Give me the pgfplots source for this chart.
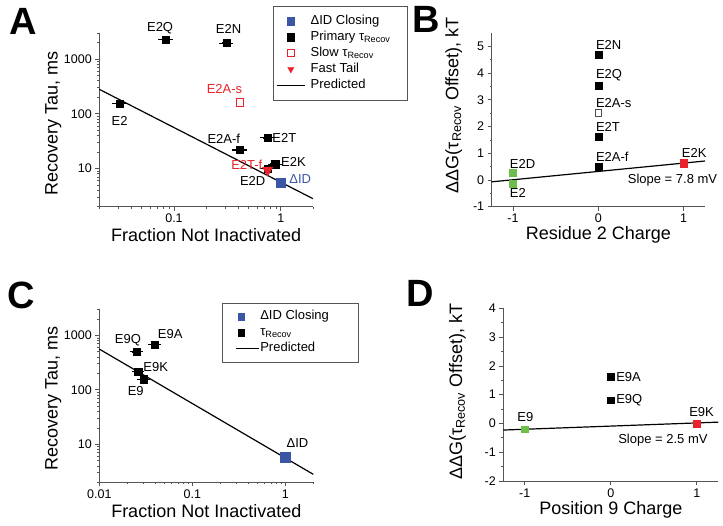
\documentclass[border=0pt]{standalone}
\usepackage{fontspec}
\setmainfont{Liberation Sans}
\usepackage{pgfplots}
\pgfplotsset{compat=1.18}
\definecolor{cblue}{HTML}{3A56A5}
\definecolor{cred}{HTML}{E8232A}
\definecolor{cgreen}{HTML}{6DBE4B}
\definecolor{axgray}{HTML}{555555}
\newcommand\tickfont{\fontsize{12.5}{14}\selectfont}
\newcommand\labfont{\fontsize{18}{21}\selectfont}
\newcommand\datfont{\fontsize{13}{15}\selectfont}
\newcommand\panfont{\fontsize{38}{40}\selectfont\bfseries}
\pgfplotsset{
  base/.style={
    scale only axis, anchor=south west, clip=false,
    axis lines=left, axis line style={-, axgray, line width=0.8pt},
    tick align=outside, major tick length=4pt, minor tick length=2.2pt,
    tick style={axgray, line width=0.7pt},
    every tick label/.append style={font=\tickfont},
    /pgf/number format/assume math mode=true,
    legend cell align=left,
  },
}
\begin{document}
\begin{tikzpicture}
\path[use as bounding box] (0,0) rectangle (723pt,526pt);
\node[font=\panfont] at (23.3pt,504.5pt) {A};
\node[font=\panfont] at (426.7pt,507pt) {B};
\node[font=\panfont] at (21.7pt,230.2pt) {C};
\node[font=\panfont] at (420pt,232.7pt) {D};

% ---------------- A ----------------
\begin{axis}[base, at={(99.3pt,319.3pt)}, width=213.7pt, height=173.7pt,
  xmode=log, ymode=log, xmin=0.02, xmax=2, ymin=2, ymax=3000,
  xtick={0.1,1}, xticklabels={0.1,1},
  minor xtick={0.02,0.03,0.04,0.05,0.06,0.07,0.08,0.09,0.2,0.3,0.4,0.5,0.6,0.7,0.8,0.9,2},
  ytick={10,100,1000}, yticklabels={10,100,1000},
  minor ytick={2,3,4,5,6,7,8,9,20,30,40,50,60,70,80,90,200,300,400,500,600,700,800,900,2000,3000},
  xlabel={Fraction Not Inactivated}, ylabel={Recovery Tau, ms},
  every axis x label/.style={at={(axis description cs:0.5,-0.163)}, anchor=center, font=\labfont},
  every axis y label/.style={at={(axis description cs:-0.2153,0.479)}, rotate=90, anchor=center, font=\labfont},
  legend image code/.code={\draw[mark repeat=2,mark phase=2,#1] plot coordinates {(0pt,0pt) (14pt,0pt) (28pt,0pt)};},
  legend image post style={mark size=3.6pt},
  legend style={at={(0.813,1.155)}, anchor=north west, draw=axgray, font=\datfont,
    inner xsep=3pt, inner ysep=7pt, row sep=0pt,
    nodes={inner sep=1.2pt, text height=9.6pt, text depth=4pt},
    /tikz/every odd column/.append style={column sep=4pt}},
]
\addplot[only marks, mark=square*, mark size=4.7pt, cblue] coordinates {(1.0,5.5)};
\addlegendentry{ΔID Closing}
\addplot[only marks, mark=square*, mark size=3.6pt, black,
  error bars/.cd, x dir=both, x explicit, error bar style={line width=1.3pt},
  error mark options={mark size=2.3pt, line width=1.1pt}]
  coordinates {(0.031,152) +- (0.0032,0) (0.084,2270) +- (0.0088,0) (0.311,1960) +- (0.032,0)
   (0.413,21.8) +- (0.043,0) (0.753,36.2) +- (0.078,0) (0.887,12.0) +- (0.092,0) (0.753,9.9) +- (0.078,0)};
\addlegendentry{\makebox[92pt][l]{Primary τ\textsubscript{Recov}}}
\addplot[only marks, mark=square, mark size=3.8pt, cred, line width=0.8pt] coordinates {(0.413,163)};
\addlegendentry{Slow τ\textsubscript{Recov}}
\addplot[only marks, mark=triangle*, mark options={rotate=180}, mark size=6pt, cred] coordinates {(0.753,9.3)};
\addlegendentry{Fast Tail}
\addplot[black, line width=1.2pt] coordinates {(0.02,280) (2,2.8)};
\addlegendentry{Predicted}
\node[font=\datfont, xshift=-5.8pt, yshift=11pt] at (axis cs:0.084,2270) {E2Q};
\node[font=\datfont, xshift=2pt, yshift=14.4pt] at (axis cs:0.311,1960) {E2N};
\node[font=\datfont, text=cred, xshift=-15.3pt, yshift=13.4pt] at (axis cs:0.413,163) {E2A-s};
\node[font=\datfont, xshift=0pt, yshift=-17.4pt] at (axis cs:0.031,152) {E2};
\node[font=\datfont, xshift=-16pt, yshift=11pt] at (axis cs:0.413,21.8) {E2A-f};
\node[font=\datfont, anchor=west, inner sep=0pt, xshift=4.6pt] at (axis cs:0.753,36.2) {E2T};
\node[font=\datfont, anchor=west, inner sep=0pt, xshift=5.7pt, yshift=2.6pt] at (axis cs:0.887,12.0) {E2K};
\node[font=\datfont, text=cred, anchor=west, inner sep=0pt, xshift=-36.6pt, yshift=5.3pt] at (axis cs:0.753,9.3) {E2T-f};
\node[font=\datfont, xshift=-15pt, yshift=-10.7pt] at (axis cs:0.753,9.3) {E2D};
\node[font=\datfont, text=cblue, anchor=west, inner sep=0pt, xshift=8.3pt, yshift=3.4pt] at (axis cs:1.0,5.5) {ΔID};
\end{axis}

% ---------------- B ----------------
\begin{axis}[base, at={(491.7pt,319.3pt)}, width=213.3pt, height=173.7pt,
  xmin=-1.25, xmax=1.25, ymin=-1, ymax=5.5,
  xtick={-1,0,1}, xticklabels={-1,0,1},
  ytick={-1,0,1,2,3,4,5}, yticklabels={-1,0,1,2,3,4,5}, minor y tick num=1,
  xlabel={Residue 2 Charge}, ylabel={ΔΔG(τ\textsubscript{Recov} Offset), kT},
  every axis x label/.style={at={(axis description cs:0.5,-0.163)}, anchor=center, font=\labfont},
  every axis y label/.style={at={(axis description cs:-0.1777,0.585)}, rotate=90, anchor=center, font=\labfont},
]
\addplot[black, line width=1.2pt] coordinates {(-1.25,-0.07) (1.25,0.71)};
\addplot[only marks, mark=square*, mark size=3.4pt, black] coordinates {(0,4.69) (0,3.54) (0,1.62) (0,0.5)};
\addplot[only marks, mark=square, mark size=3.4pt, black!70, line width=0.8pt] coordinates {(0,2.52)};
\addplot[only marks, mark=square*, mark size=3.4pt, cgreen] coordinates {(-1,0.27) (-1,-0.15)};
\addplot[only marks, mark=square*, mark size=3.6pt, cred] coordinates {(1,0.63)};
\node[font=\datfont, anchor=west, inner sep=0pt, xshift=-2.5pt, yshift=10pt] at (axis cs:0,4.69) {E2N};
\node[font=\datfont, anchor=west, inner sep=0pt, xshift=-2.5pt, yshift=10pt] at (axis cs:0,3.54) {E2Q};
\node[font=\datfont, anchor=west, inner sep=0pt, xshift=-2.5pt, yshift=10pt] at (axis cs:0,2.52) {E2A-s};
\node[font=\datfont, anchor=west, inner sep=0pt, xshift=-2.5pt, yshift=10pt] at (axis cs:0,1.62) {E2T};
\node[font=\datfont, anchor=west, inner sep=0pt, xshift=-2.5pt, yshift=10pt] at (axis cs:0,0.5) {E2A-f};
\node[font=\datfont, anchor=west, inner sep=0pt, xshift=-3.3pt, yshift=8.7pt] at (axis cs:-1,0.27) {E2D};
\node[font=\datfont, anchor=west, inner sep=0pt, xshift=-3.3pt, yshift=-9.3pt] at (axis cs:-1,-0.15) {E2};
\node[font=\datfont, anchor=west, inner sep=0pt, xshift=-2pt, yshift=10pt] at (axis cs:1,0.63) {E2K};
\node[font=\datfont] at (axis cs:0.869,0) {Slope = 7.8 mV};
\end{axis}

% ---------------- C ----------------
\begin{axis}[base, at={(99.3pt,43.7pt)}, width=214pt, height=172.9pt,
  xmode=log, ymode=log, xmin=0.01, xmax=2, ymin=2, ymax=3000,
  xtick={0.01,0.1,1}, xticklabels={0.01,0.1,1},
  minor xtick={0.02,0.03,0.04,0.05,0.06,0.07,0.08,0.09,0.2,0.3,0.4,0.5,0.6,0.7,0.8,0.9,2},
  ytick={10,100,1000}, yticklabels={10,100,1000},
  minor ytick={2,3,4,5,6,7,8,9,20,30,40,50,60,70,80,90,200,300,400,500,600,700,800,900,2000,3000},
  xlabel={Fraction Not Inactivated}, ylabel={Recovery Tau, ms},
  every axis x label/.style={at={(axis description cs:0.5,-0.164)}, anchor=center, font=\labfont},
  every axis y label/.style={at={(axis description cs:-0.215,0.487)}, rotate=90, anchor=center, font=\labfont},
  legend image code/.code={\draw[mark repeat=2,mark phase=2,#1] plot coordinates {(0pt,0pt) (5.7pt,0pt) (23pt,0pt)};},
  legend image post style={mark size=3.4pt},
  legend style={at={(0.572,1.038)}, anchor=north west, draw=axgray, font=\datfont,
    inner xsep=13pt, inner ysep=5.5pt, row sep=0pt,
    nodes={inner sep=1.2pt, text height=9.6pt, text depth=4pt}},
]
\addplot[only marks, mark=square*, mark size=4.8pt, cblue] coordinates {(1.0,5.8)};
\addlegendentry{\makebox[84pt][l]{ΔID Closing}}
\addplot[only marks, mark=square*, mark size=3.6pt, black,
  error bars/.cd, x dir=both, x explicit, error bar style={line width=1.3pt},
  error mark options={mark size=2.3pt, line width=1.1pt}]
  coordinates {(0.0252,496) +- (0.0026,0) (0.0397,685) +- (0.0041,0) (0.0262,215) +- (0.0027,0) (0.0302,156) +- (0.0031,0)};
\addlegendentry{τ\textsubscript{Recov}}
\addplot[black, line width=1.2pt] coordinates {(0.01,560) (2,2.8)};
\addlegendentry{Predicted}
\node[font=\datfont, xshift=-8.7pt, yshift=11.7pt] at (axis cs:0.0252,496) {E9Q};
\node[font=\datfont, xshift=15.3pt, yshift=10.7pt] at (axis cs:0.0397,685) {E9A};
\node[font=\datfont, xshift=17.5pt, yshift=5pt] at (axis cs:0.0262,215) {E9K};
\node[font=\datfont, xshift=-8.2pt, yshift=-11.4pt] at (axis cs:0.0302,156) {E9};
\node[font=\datfont, xshift=12.1pt, yshift=14.4pt] at (axis cs:1.0,5.8) {ΔID};
\end{axis}

% ---------------- D ----------------
\begin{axis}[base, at={(503.3pt,45pt)}, width=215pt, height=172.7pt,
  xmin=-1.25, xmax=1.25, ymin=-2, ymax=4,
  xtick={-1,0,1}, xticklabels={-1,0,1},
  ytick={-2,-1,0,1,2,3,4}, yticklabels={-2,-1,0,1,2,3,4}, minor y tick num=1,
  xlabel={Position 9 Charge}, ylabel={ΔΔG(τ\textsubscript{Recov} Offset), kT},
  every axis x label/.style={at={(axis description cs:0.5,-0.168)}, anchor=center, font=\labfont},
  every axis y label/.style={at={(axis description cs:-0.213,0.518)}, rotate=90, anchor=center, font=\labfont},
]
\addplot[black, line width=1.2pt] coordinates {(-1.25,-0.23) (1.25,0.045)};
\addplot[only marks, mark=square*, mark size=3.2pt, black] coordinates {(0,1.62) (0,0.81)};
\addplot[only marks, mark=square*, mark size=3.4pt, cgreen] coordinates {(-1,-0.2)};
\addplot[only marks, mark=square*, mark size=3.4pt, cred] coordinates {(1,0)};
\node[font=\datfont, anchor=west, inner sep=0pt, xshift=5.3pt] at (axis cs:0,1.62) {E9A};
\node[font=\datfont, anchor=west, inner sep=0pt, xshift=5.3pt] at (axis cs:0,0.81) {E9Q};
\node[font=\datfont, anchor=west, inner sep=0pt, xshift=-7.6pt, yshift=12.3pt] at (axis cs:-1,-0.2) {E9};
\node[font=\datfont, anchor=west, inner sep=0pt, xshift=-7.7pt, yshift=11.6pt] at (axis cs:1,0) {E9K};
\node[font=\datfont] at (axis cs:0.606,-0.58) {Slope = 2.5 mV};
\end{axis}
\end{tikzpicture}
\end{document}
